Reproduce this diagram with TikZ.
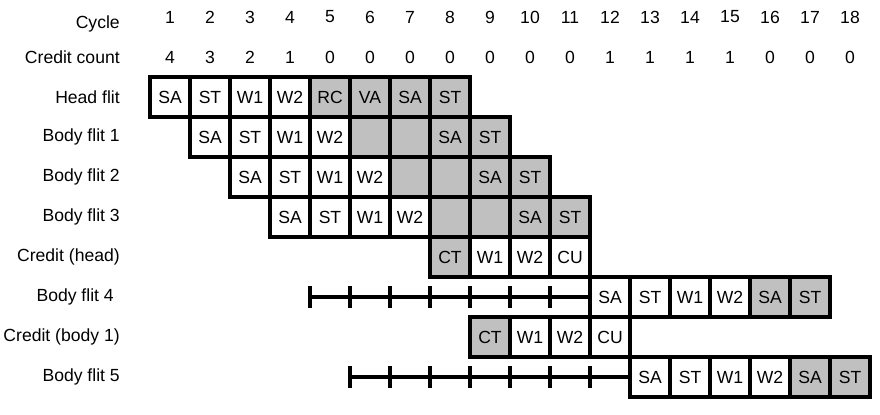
\documentclass[tikz,border=0pt]{standalone}
\usepackage{fontspec}
\setmainfont{Liberation Sans}
\definecolor{cellgray}{RGB}{192,192,192}
\begin{document}
\begin{tikzpicture}[font=\fontsize{12.5}{15}\selectfont]

\tikzstyle{wbox}=[rectangle, draw, line width=2.4pt, fill=white, minimum width=1cm, minimum height=1cm, inner sep=0pt]
\tikzstyle{gbox}=[wbox, fill=cellgray]
\tikzstyle{rowlabel}=[anchor=east, inner sep=0pt]
\tikzstyle{tickline}=[line width=2.2pt]

\useasboundingbox (0,0) rectangle (22,-10.35);

% header rows
\node (cyc) [rowlabel] at (3,-0.6) {Cycle};
\node (cred) [rowlabel] at (3,-1.425) {Credit count};
\foreach \c/\n in {1/4,2/3,3/2,4/1,5/0,6/0,7/0,8/0,9/0,10/0,11/0,12/1,13/1,14/1,15/1,16/0,17/0,18/0} {
  \node (cyc\c) at (3.25+\c,-0.425) {\c};
  \node (cred\c) at (3.25+\c,-1.425) {\n};
}

% row labels
\node (lhead) [rowlabel] at (3,-2.425) {Head flit};
\node (lbody1) [rowlabel] at (3,-3.425) {Body flit 1};
\node (lbody2) [rowlabel] at (3,-4.425) {Body flit 2};
\node (lbody3) [rowlabel] at (3,-5.425) {Body flit 3};
\node (lcredh) [rowlabel] at (3,-6.425) {Credit (head)};
\node (lbody4) [rowlabel] at (2.85,-7.425) {Body flit 4};
\node (lcredb) [rowlabel] at (3,-8.425) {Credit (body 1)};
\node (lbody5) [rowlabel] at (3,-9.425) {Body flit 5};

% pipeline stages
\foreach \c/\t/\s in {1/SA/wbox,2/ST/wbox,3/W1/wbox,4/W2/wbox,5/RC/gbox,6/VA/gbox,7/SA/gbox,8/ST/gbox}
  \node (head\c) [\s] at (3.25+\c,-2.425) {\t};
\foreach \c/\t/\s in {2/SA/wbox,3/ST/wbox,4/W1/wbox,5/W2/wbox,6//gbox,7//gbox,8/SA/gbox,9/ST/gbox}
  \node (bodyA\c) [\s] at (3.25+\c,-3.425) {\t};
\foreach \c/\t/\s in {3/SA/wbox,4/ST/wbox,5/W1/wbox,6/W2/wbox,7//gbox,8//gbox,9/SA/gbox,10/ST/gbox}
  \node (bodyB\c) [\s] at (3.25+\c,-4.425) {\t};
\foreach \c/\t/\s in {4/SA/wbox,5/ST/wbox,6/W1/wbox,7/W2/wbox,8//gbox,9//gbox,10/SA/gbox,11/ST/gbox}
  \node (bodyC\c) [\s] at (3.25+\c,-5.425) {\t};
\foreach \c/\t/\s in {8/CT/gbox,9/W1/wbox,10/W2/wbox,11/CU/wbox}
  \node (credA\c) [\s] at (3.25+\c,-6.425) {\t};
\foreach \c/\t/\s in {12/SA/wbox,13/ST/wbox,14/W1/wbox,15/W2/wbox,16/SA/gbox,17/ST/gbox}
  \node (bodyD\c) [\s] at (3.25+\c,-7.425) {\t};
\foreach \c/\t/\s in {9/CT/gbox,10/W1/wbox,11/W2/wbox,12/CU/wbox}
  \node (credB\c) [\s] at (3.25+\c,-8.425) {\t};
\foreach \c/\t/\s in {13/SA/wbox,14/ST/wbox,15/W1/wbox,16/W2/wbox,17/SA/gbox,18/ST/gbox}
  \node (bodyE\c) [\s] at (3.25+\c,-9.425) {\t};

% waiting for credits
\coordinate (waitD) at (7.75,-7.425);
\coordinate (waitE) at (8.75,-9.425);
\draw [tickline] (waitD) -- (bodyD12.west);
\draw [tickline] (waitE) -- (bodyE13.west);
\foreach \c in {5,...,11}
  \draw [tickline] (2.75+\c,-7.16) -- (2.75+\c,-7.69);
\foreach \c in {6,...,12}
  \draw [tickline] (2.75+\c,-9.16) -- (2.75+\c,-9.69);

\end{tikzpicture}
\end{document}
